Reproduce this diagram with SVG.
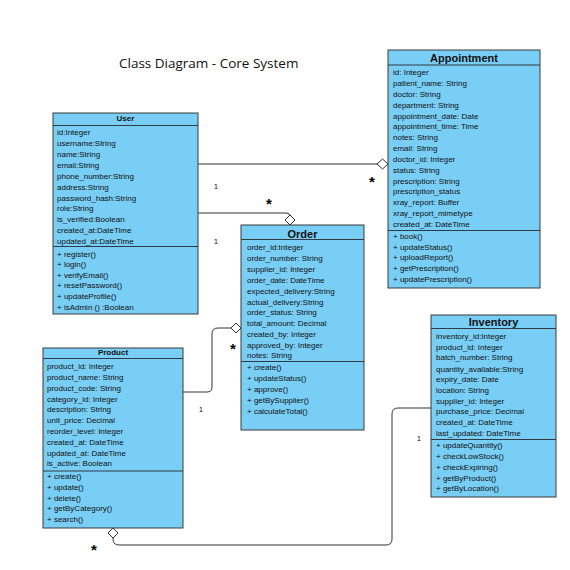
<svg xmlns="http://www.w3.org/2000/svg" width="570" height="570" viewBox="0 0 570 570">
<style>
.box{fill:#79CEF5;stroke:#3a3a3a;stroke-width:1}
.sep{stroke:#2f3a44;stroke-width:1.2}
.t{font-family:"Liberation Sans",Arial,sans-serif;font-size:8px;fill:#111}
.h{font-family:"Liberation Sans",Arial,sans-serif;font-weight:bold;fill:#111;text-anchor:middle}
.c{fill:none;stroke:#333;stroke-width:1}
.d{fill:#fff;stroke:#333;stroke-width:1}
.m{font-family:"Liberation Sans",Arial,sans-serif;fill:#000}
.s{font-family:"Liberation Sans",Arial,sans-serif;fill:#000;font-size:15px;font-weight:bold}
</style>
<rect width="570" height="570" fill="#fff"/>
<text x="119" y="68" font-family="'Open Sans',sans-serif" font-size="13.5" fill="#111">Class Diagram - Core System</text>

<g id="connectors">
<path class="c" d="M198 164 H377"/>
<path class="d" d="M377 164 L382.5 159 L388 164 L382.5 169 Z"/>
<path class="c" d="M198 213 H286 Q290 213 290 216"/>
<path class="d" d="M290 215 L295 220 L290 225 L285 220 Z"/>
<path class="c" d="M183 392 H207 Q212 392 212 387 V334 Q212 328 218 328 H232"/>
<path class="d" d="M231 328 L236 323 L241 328 L236 333 Z"/>
<path class="c" d="M431 408 H398 Q392 408 392 414 V539 Q392 545 386 545 H119 Q113 545 113 539 V538"/>
<path class="d" d="M113 528 L118 533 L113 538 L108 533 Z"/>
<text class="s" x="372" y="187" text-anchor="middle">*</text>
<text class="m" x="216" y="189" font-size="7" text-anchor="middle">1</text>
<text class="s" x="269" y="209" text-anchor="middle">*</text>
<text class="m" x="216" y="244" font-size="7" text-anchor="middle">1</text>
<text class="s" x="233" y="354" text-anchor="middle">*</text>
<text class="m" x="201" y="412" font-size="7" text-anchor="middle">1</text>
<text class="m" x="419" y="441" font-size="7" text-anchor="middle">1</text>
<text class="s" x="94" y="555" text-anchor="middle">*</text>
</g>

<g id="user">
<rect class="box" x="53" y="113" width="145" height="201"/>
<line class="sep" x1="53" y1="125.5" x2="198" y2="125.5"/>
<line class="sep" x1="53" y1="246.5" x2="198" y2="246.5"/>
<text class="h" x="125.5" y="121" font-size="8">User</text>
<text class="t" x="57" y="135">id:Integer</text>
<text class="t" x="57" y="146">username:String</text>
<text class="t" x="57" y="157">name:String</text>
<text class="t" x="57" y="168">email:String</text>
<text class="t" x="57" y="179">phone_number:String</text>
<text class="t" x="57" y="190">address:String</text>
<text class="t" x="57" y="201">password_hash:String</text>
<text class="t" x="57" y="211">role:String</text>
<text class="t" x="57" y="222">is_verified:Boolean</text>
<text class="t" x="57" y="233">created_at:DateTime</text>
<text class="t" x="57" y="244">updated_at:DateTime</text>
<text class="t" x="57" y="257">+ register()</text>
<text class="t" x="57" y="267">+ login()</text>
<text class="t" x="57" y="278">+ verifyEmail()</text>
<text class="t" x="57" y="288">+ resetPassword()</text>
<text class="t" x="57" y="299">+ updateProfile()</text>
<text class="t" x="57" y="310">+ isAdmin () :Boolean</text>
</g>

<g id="appointment">
<rect class="box" x="388" y="50" width="152" height="238"/>
<line class="sep" x1="388" y1="65" x2="540" y2="65"/>
<line class="sep" x1="388" y1="230.5" x2="540" y2="230.5"/>
<text class="h" x="464" y="62" font-size="11">Appointment</text>
<text class="t" x="393" y="75">id: Integer</text>
<text class="t" x="393" y="86">patient_name: String</text>
<text class="t" x="393" y="97">doctor: String</text>
<text class="t" x="393" y="108">department: String</text>
<text class="t" x="393" y="119">appointment_date: Date</text>
<text class="t" x="393" y="129">appointment_time: Time</text>
<text class="t" x="393" y="140">notes: String</text>
<text class="t" x="393" y="151">email: String</text>
<text class="t" x="393" y="162">doctor_id: Integer</text>
<text class="t" x="393" y="173">status: String</text>
<text class="t" x="393" y="184">prescription: String</text>
<text class="t" x="393" y="194">prescription_status</text>
<text class="t" x="393" y="205">xray_report: Buffer</text>
<text class="t" x="393" y="216">xray_report_mimetype</text>
<text class="t" x="393" y="227">created_at: DateTime</text>
<text class="t" x="393" y="239">+ book()</text>
<text class="t" x="393" y="250">+ updateStatus()</text>
<text class="t" x="393" y="260">+ uploadReport()</text>
<text class="t" x="393" y="271">+ getPrescription()</text>
<text class="t" x="393" y="282">+ updatePrescription()</text>
</g>

<g id="order">
<rect class="box" x="241" y="225" width="123" height="205"/>
<line class="sep" x1="241" y1="239.5" x2="364" y2="239.5"/>
<line class="sep" x1="241" y1="361.5" x2="364" y2="361.5"/>
<text class="h" x="302.5" y="238" font-size="11">Order</text>
<text class="t" x="247" y="250">order_id:Integer</text>
<text class="t" x="247" y="261">order_number: String</text>
<text class="t" x="247" y="272">supplier_id: Integer</text>
<text class="t" x="247" y="283">order_date: DateTime</text>
<text class="t" x="247" y="294">expected_delivery:String</text>
<text class="t" x="247" y="305">actual_delivery:String</text>
<text class="t" x="247" y="315">order_status: String</text>
<text class="t" x="247" y="326">total_amount: Decimal</text>
<text class="t" x="247" y="337">created_by: Integer</text>
<text class="t" x="247" y="348">approved_by: Integer</text>
<text class="t" x="247" y="358">notes: String</text>
<text class="t" x="247" y="370">+ create()</text>
<text class="t" x="247" y="381">+ updateStatus()</text>
<text class="t" x="247" y="392">+ approve()</text>
<text class="t" x="247" y="403">+ getBySupplier()</text>
<text class="t" x="247" y="414">+ calculateTotal()</text>
</g>

<g id="product">
<rect class="box" x="43" y="348" width="140" height="180"/>
<line class="sep" x1="43" y1="358.5" x2="183" y2="358.5"/>
<line class="sep" x1="43" y1="471" x2="183" y2="471"/>
<text class="h" x="113" y="355" font-size="8">Product</text>
<text class="t" x="47" y="369">product_id: Integer</text>
<text class="t" x="47" y="380">product_name: String</text>
<text class="t" x="47" y="391">product_code: String</text>
<text class="t" x="47" y="402">category_id: Integer</text>
<text class="t" x="47" y="412">description: String</text>
<text class="t" x="47" y="423">unit_price: Decimal</text>
<text class="t" x="47" y="434">reorder_level: Integer</text>
<text class="t" x="47" y="445">created_at: DateTime</text>
<text class="t" x="47" y="456">updated_at: DateTime</text>
<text class="t" x="47" y="466">is_active: Boolean</text>
<text class="t" x="47" y="479">+ create()</text>
<text class="t" x="47" y="490">+ update()</text>
<text class="t" x="47" y="501">+ delete()</text>
<text class="t" x="47" y="511">+ getByCategory()</text>
<text class="t" x="47" y="522">+ search()</text>
</g>

<g id="inventory">
<rect class="box" x="431" y="315" width="125" height="182"/>
<line class="sep" x1="431" y1="328.5" x2="556" y2="328.5"/>
<line class="sep" x1="431" y1="439.5" x2="556" y2="439.5"/>
<text class="h" x="493.5" y="326" font-size="11">Inventory</text>
<text class="t" x="436" y="339">inventory_id:Integer</text>
<text class="t" x="436" y="350">product_id: Integer</text>
<text class="t" x="436" y="360">batch_number: String</text>
<text class="t" x="436" y="372">quantity_available:String</text>
<text class="t" x="436" y="382">expiry_date: Date</text>
<text class="t" x="436" y="393">location: String</text>
<text class="t" x="436" y="404">supplier_id: Integer</text>
<text class="t" x="436" y="414">purchase_price: Decimal</text>
<text class="t" x="436" y="425">created_at: DateTime</text>
<text class="t" x="436" y="436">last_updated: DateTime</text>
<text class="t" x="436" y="448">+ updateQuantity()</text>
<text class="t" x="436" y="459">+ checkLowStock()</text>
<text class="t" x="436" y="470">+ checkExpiring()</text>
<text class="t" x="436" y="481">+ getByProduct()</text>
<text class="t" x="436" y="491">+ getByLocation()</text>
</g>
</svg>
